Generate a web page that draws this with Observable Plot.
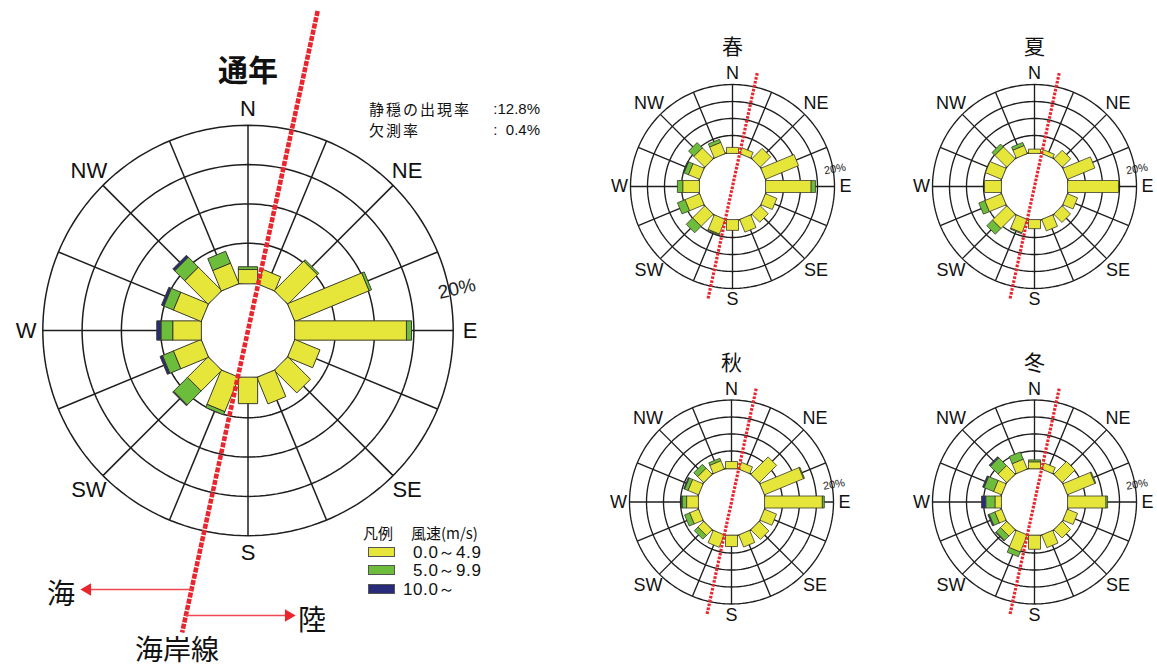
<!DOCTYPE html>
<html>
<head>
<meta charset="utf-8">
<script src="https://cdn.jsdelivr.net/npm/d3@7"></script>
<script src="https://cdn.jsdelivr.net/npm/@observablehq/plot@0.6"></script>
<style>
  body { margin: 0; background: #fff; }
  #page { position: relative; width: 1157px; height: 668px; overflow: hidden; background: #fff; color: #111;
          font-family: "Liberation Sans", Arial, sans-serif; }
  #page svg { position: absolute; overflow: visible; }
  .t { position: absolute; white-space: nowrap; line-height: 1; }
  .jp { font-family: "Noto Sans CJK JP", sans-serif; }
  .c { transform: translate(-50%, -50%); }
  .l { transform: translate(0, -50%); }
  .r { transform: translate(-100%, -50%); }
  .sw { position: absolute; width: 27px; height: 10px; box-sizing: border-box; border: 1px solid #555; }
</style>
</head>
<body>
<div id="page"></div>
<script>
// ---- data -------------------------------------------------------------
const directions = ["N","NNE","NE","ENE","E","ESE","SE","SSE","S","SSW","SW","WSW","W","WNW","NW","NNW"];
const compassLabels = ["N","NE","E","SE","S","SW","W","NW"];
const speedClasses = ["0.0～4.9", "5.0～9.9", "10.0～"];
const speedColors = ["#e6e63a", "#6cbd3c", "#282a7a"];
const gridPercents = [5, 10, 15, 20];
const scaleLabel = "20%";
const calmRate = "12.8%";
const missingRate = "0.4%";
const coastBearing = 12.3; // coastline direction, degrees from north

// frequency (%) per direction, by wind-speed class
const annualLow  = [1.7, 1.8, 5.2, 10.1, 14.1, 3.3, 3.9, 3.5, 3.2, 4.6, 3.6, 3.7, 3.5, 3.7, 4.1, 2.7];
const annualMid  = [0.3, 0,   0.2, 0.3,  0.6,  0,   0,   0,   0,   0.4, 2.5, 1.5, 1.5, 1.3, 1.8, 1.6];
const annualHigh = [0,   0,   0,   0,    0,    0,   0,   0,   0,   0,   0.1, 0.3, 0.5, 0.3, 0.3, 0];

const springLow  = [1.5, 1.6, 4.1, 10.3, 13.2, 3.4, 3.1, 3.8, 2.9, 4.5, 4.9, 4.5, 4.7, 3.4, 4.4, 3.4];
const springMid  = [0,   0,   0,   0,    1.2,  0,   0,   0,   0,   0.2, 2.6, 2.3, 1.5, 1.4, 2.1, 0.9];
const springHigh = [0,   0,   0,   0,    0,    0,   0,   0,   0,   0,   0,   0,   0,   0.2, 0,   0];

const summerLow  = [1.0, 1.0, 3.3, 8.5, 14.7, 3.0, 3.2, 3.4, 2.4, 4.1, 5.8, 5.2, 4.7, 4.9, 4.8, 2.4];
const summerMid  = [0,   0,   0,   0,   0,    0,   0,   0,   0,   0.2, 2.3, 1.8, 0,   0,   1.1, 0.9];
const summerHigh = [0,   0,   0,   0,   0,    0,   0,   0,   0,   0,   0,   0,   0,   0,   0,   0];

const autumnLow  = [1.9, 1.9, 7.0, 12.3, 16.8, 3.6, 3.8, 3.6, 3.1, 3.7, 2.3, 2.7, 3.3, 3.2, 2.4, 2.5];
const autumnMid  = [0,   0,   0,   0.2,  0.5,  0,   0,   0,   0,   0,   1.4, 1.5, 1.3, 1.1, 1.5, 0.7];
const autumnHigh = [0,   0,   0,   0,    0,    0,   0,   0,   0,   0,   0,   0,   0.2, 0.2, 0,   0];

const winterLow  = [1.9, 1.7, 5.1, 8.6, 11.1, 3.0, 3.2, 3.8, 3.9, 5.3, 2.5, 2.0, 1.7, 2.4, 3.5, 3.0];
const winterMid  = [0.5, 0,   0,   0.2, 0.4,  0,   0,   0,   0,   1.4, 1.8, 1.8, 2.7, 3.0, 3.2, 2.2];
const winterHigh = [0,   0,   0,   0,   0,    0,   0,   0,   0,   0,   0.2, 0.3, 1.2, 0.4, 0.4, 0];

// ---- drawing ----------------------------------------------------------
const page = document.getElementById("page");
const rad = d => d * Math.PI / 180;
const polar = (bearing, r) => [r * Math.sin(rad(bearing)), r * Math.cos(rad(bearing))];
const RED = "#e9262e";

function windRose(o) {
  const {low, mid, high, box, cx, cy, k} = o;
  const hole = o.holePx / k;          // calm circle in the middle
  const hw = o.barPx / 2 / k;         // half bar width
  const outer = hole + d3.max(gridPercents);

  // stacked rectangular bars, one polygon per speed class
  const bars = [];
  directions.forEach((dir, i) => {
    const [ux, uy] = polar(i * 22.5, 1);
    let acc = 0;
    [low[i], mid[i], high[i]].forEach((v, cls) => {
      if (!(v > 0)) return;
      const r0 = acc === 0 ? Math.sqrt(hole * hole - hw * hw) : hole + acc;
      acc += v;
      const r1 = hole + acc;
      const id = dir + "-" + cls;
      for (const [r, w] of [[r0, hw], [r1, hw], [r1, -hw], [r0, -hw]])
        bars.push({id, cls, x: ux * r + uy * w, y: uy * r - ux * w});
    });
  });

  const angles = d3.range(0, 360, 2);
  const rings = gridPercents.flatMap(p => angles.map(a => {
    const [x, y] = polar(a, hole + p); return {p, x, y};
  }));
  const holeRing = angles.map(a => { const [x, y] = polar(a, hole); return {x, y}; });
  const spokes = directions.map((d, i) => {
    const [x1, y1] = polar(i * 22.5, hole), [x2, y2] = polar(i * 22.5, outer);
    return {x1, y1, x2, y2};
  });
  const labels = compassLabels.map((t, i) => {
    const [x, y] = polar(i * 45, (i % 2 ? o.labelDiagPx : o.labelCardPx) / k);
    return {t, x, y};
  });
  const [tx, ty] = polar(coastBearing, o.coastTopPx / k);
  const [bx, by] = polar(coastBearing + 180, o.coastBottomPx / k);
  const [sx, sy] = polar(o.scaleBearing, o.scaleRPx / k);
  const [hx, hy] = polar(0, o.titleRPx / k);

  const marks = [
    Plot.line(rings, {x: "x", y: "y", z: "p", curve: "linear-closed", stroke: "#1e1e1e", strokeWidth: o.gridWidth}),
    Plot.link(spokes, {x1: "x1", y1: "y1", x2: "x2", y2: "y2", stroke: "#1e1e1e", strokeWidth: o.gridWidth}),
    Plot.line(holeRing, {x: "x", y: "y", curve: "linear-closed", fill: "white", stroke: "#1e1e1e", strokeWidth: o.gridWidth}),
    Plot.line(bars, {x: "x", y: "y", z: "id", fill: "cls", curve: "linear-closed", stroke: "#3a3a2a", strokeWidth: o.barStroke}),
    Plot.link([{x1: tx, y1: ty, x2: bx, y2: by}], {x1: "x1", y1: "y1", x2: "x2", y2: "y2",
      stroke: RED, strokeWidth: o.coastWidth, strokeDasharray: o.coastDash}),
    Plot.text(labels, {x: "x", y: "y", text: "t", fontSize: o.labelSize, fill: "#111",
      fontFamily: "Liberation Sans, Arial, sans-serif"}),
    Plot.text([scaleLabel], {x: () => sx, y: () => sy, text: d => d, rotate: o.scaleRotate, fontSize: o.scaleSize,
      fill: "#222", fontFamily: "Liberation Sans Narrow, Liberation Sans, sans-serif"}),
    Plot.text([o.title], {x: () => hx, y: () => hy, text: d => d, fontSize: o.titleSize, fontWeight: o.titleWeight,
      fill: "#111", fontFamily: "Noto Sans CJK JP, sans-serif"})
  ];
  if (o.extra) marks.push(...o.extra(k));

  const svg = Plot.plot({
    width: box.w, height: box.h, margin: 0,
    x: {axis: null, domain: [(box.left - cx) / k, (box.left + box.w - cx) / k], range: [0, box.w]},
    y: {axis: null, domain: [(cy - box.top - box.h) / k, (cy - box.top) / k], range: [box.h, 0]},
    color: {type: "ordinal", domain: [0, 1, 2], range: speedColors},
    style: {background: "transparent", overflow: "visible"},
    marks
  });
  svg.style.left = box.left + "px";
  svg.style.top = box.top + "px";
  page.appendChild(svg);
}

// sea / land arrows either side of the coastline (main rose only)
const mainCx = 247.5, mainCy = 330;
function coastArrows(k) {
  const t = Math.tan(rad(coastBearing));
  const arrows = [
    {depthPx: 259, tipPx: 80},   // 海 (sea side)
    {depthPx: 285, tipPx: 295}   // 陸 (land side)
  ].map(a => {
    const y = -a.depthPx / k;
    const tip = (a.tipPx - mainCx) / k;
    const dir = Math.sign(tip - y * t);
    return {x1: y * t, y, x2: tip - dir * 8 / k, tip, head: tip - dir * 7 / k, rot: dir > 0 ? 90 : -90};
  });
  return [
    Plot.link(arrows, {x1: "x1", y1: "y", x2: "x2", y2: "y", stroke: "#ef4852", strokeWidth: 1.6}),
    Plot.dot(arrows, {x: "head", y: "y", symbol: "triangle", r: 4.6, rotate: "rot", fill: RED, stroke: "none"})
  ];
}

const big = {k: 7.86, holePx: 48, barPx: 19.3, gridWidth: 1.5, barStroke: 1,
  labelCardPx: 222, labelDiagPx: 225, labelSize: 22,
  coastTopPx: 327, coastBottomPx: 309, coastWidth: 4.6, coastDash: "5,1.4",
  scaleBearing: 78.7, scaleRPx: 213, scaleRotate: -13, scaleSize: 19,
  titleRPx: 259, titleSize: 30, titleWeight: "bold"};
const small = {k: 3.4, holePx: 34, barPx: 12, gridWidth: 1.35, barStroke: 0.8,
  labelCardPx: 113, labelDiagPx: 118, labelSize: 18,
  coastTopPx: 116, coastBottomPx: 116, coastWidth: 3.2, coastDash: "2.6,1.4",
  scaleBearing: 80.3, scaleRPx: 104, scaleRotate: -10, scaleSize: 11,
  titleRPx: 139, titleSize: 21, titleWeight: "normal"};

windRose({...big, title: "通年", low: annualLow, mid: annualMid, high: annualHigh,
  box: {left: 0, top: 0, w: 560, h: 668}, cx: mainCx, cy: mainCy, extra: coastArrows});
windRose({...small, title: "春", low: springLow, mid: springMid, high: springHigh,
  box: {left: 590, top: 20, w: 290, h: 310}, cx: 732, cy: 186});
windRose({...small, title: "夏", low: summerLow, mid: summerMid, high: summerHigh,
  box: {left: 890, top: 20, w: 267, h: 310}, cx: 1034, cy: 186});
windRose({...small, title: "秋", low: autumnLow, mid: autumnMid, high: autumnHigh,
  box: {left: 590, top: 335, w: 290, h: 320}, cx: 731, cy: 501.5});
windRose({...small, title: "冬", low: winterLow, mid: winterMid, high: winterHigh,
  box: {left: 890, top: 335, w: 267, h: 320}, cx: 1034, cy: 501.5});

// ---- text blocks, legend and coastline notes --------------------------
function addText(text, left, top, cls, size, extra = "") {
  const d = document.createElement("div");
  d.className = "t " + cls;
  d.textContent = text;
  d.style.cssText += `left:${left}px;top:${top}px;font-size:${size}px;${extra}`;
  page.appendChild(d);
}
addText("静穏の出現率", 369, 108, "jp l", 15, "letter-spacing:2px;");
addText(":" + calmRate, 540, 108, "l r", 15);
addText("欠測率", 369, 129, "jp l", 15, "letter-spacing:2px;");
addText(":  " + missingRate, 540, 129, "l r", 15, "white-space:pre;");

addText("凡例", 363, 532, "jp l", 15);
addText("風速(m/s)", 411, 532, "jp l", 15);
const legendRows = [552, 570, 589];
speedClasses.forEach((s, i) => {
  const sw = document.createElement("div");
  sw.className = "sw";
  sw.style.left = "368px";
  sw.style.top = (legendRows[i] - 5) + "px";
  sw.style.background = speedColors[i];
  page.appendChild(sw);
  addText(s, i === 2 ? 403 : 413, legendRows[i], "l", 17, "letter-spacing:0.6px;");
});

addText("海", 61, 592, "jp c", 28);
addText("陸", 312, 618, "jp c", 28);
addText("海岸線", 177, 648, "jp c", 28);
</script>
</body>
</html>
